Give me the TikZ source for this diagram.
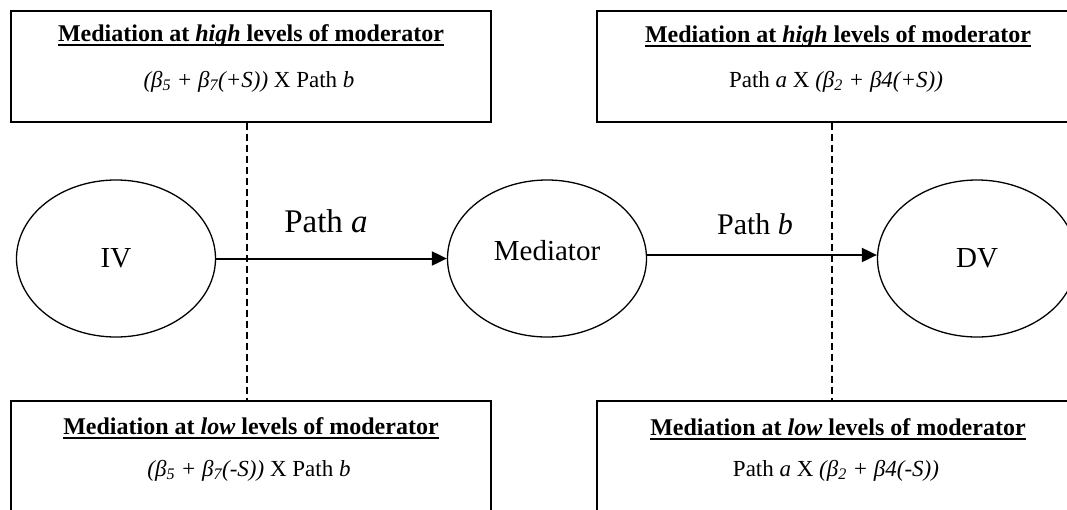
\documentclass[tikz,border=0pt]{standalone}
\usepackage{fontspec}
\setmainfont{Liberation Serif}
\usetikzlibrary{arrows.meta,shapes.geometric}
% underlined heading with a heavier rule set a little below the baseline
\newcommand\headline[1]{\setbox0=\hbox{#1}\leavevmode\rlap{\raisebox{-4.6pt}{\rule{\wd0}{1.6pt}}}\box0}
\begin{document}
\begin{tikzpicture}[x=1pt,y=-1pt]
\tikzset{
  frame/.style={draw, line width=1.4pt, minimum width=480pt, minimum height=111pt, inner sep=0pt},
  oval/.style={draw, ellipse, line width=1.3pt, minimum width=199pt, minimum height=157pt, inner sep=0pt},
  bigtext/.style={font=\fontsize{29}{32}\selectfont},
  head/.style={anchor=base, font=\fontsize{24}{26}\selectfont\bfseries},
  formula/.style={anchor=base, font=\fontsize{23}{26}\selectfont},
  link/.style={line width=2pt, -{Triangle[length=15pt,width=14pt]}},
  guide/.style={line width=1.3pt, dash pattern=on 7pt off 4pt},
}
\useasboundingbox (0,0) rectangle (1067,509);
\clip (0,0) rectangle (1067,509);

% moderator boxes
\node[frame] (tl) at (251,66.5) {};
\node[frame] (tr) at (837,66.5) {};
\node[frame] (bl) at (251,456.5) {};
\node[frame] (br) at (837,456.5) {};

\node[head] (tlh) at (251,41) {\headline{Mediation at \textit{high} levels of moderator}};
\node[formula] (tlf) at (249,87) {\textit{(β\textsubscript{5} + β\textsubscript{7}(+S))} X Path \textit{b}};
\node[head] (trh) at (838,42) {\headline{Mediation at \textit{high} levels of moderator}};
\node[formula] (trf) at (836,87) {Path \textit{a} X \textit{(β\textsubscript{2} + β4(+S))}};
\node[head] (blh) at (251,434) {\headline{Mediation at \textit{low} levels of moderator}};
\node[formula] (blf) at (249,476) {\textit{(β\textsubscript{5} + β\textsubscript{7}(-S))} X Path \textit{b}};
\node[head] (brh) at (838,435) {\headline{Mediation at \textit{low} levels of moderator}};
\node[formula] (brf) at (836,476) {Path \textit{a} X \textit{(β\textsubscript{2} + β4(-S))}};

% variables
\node[oval, bigtext] (iv) at (116,258.5) {IV};
\node[oval] (med) at (547,258.5) {};
\node[bigtext] (medlabel) at (547,251) {Mediator};
\node[oval, bigtext] (dv) at (977,258.5) {DV};

% moderation guides
\draw[guide] ([xshift=-4pt]tl.south) -- ([xshift=-4pt]bl.north);
\draw[guide] ([xshift=-5pt]tr.south) -- ([xshift=-5pt]br.north);

% paths
\draw[link] (iv.east) -- (med.west);
\draw[link] ([yshift=3.5pt]med.east) -- ([yshift=3.5pt]dv.west);
\node[anchor=base, font=\fontsize{33}{36}\selectfont] (pa) at (326,232) {Path \textit{a}};
\node[anchor=base, font=\fontsize{30}{33}\selectfont] (pb) at (755,234) {Path \textit{b}};
\end{tikzpicture}
\end{document}
